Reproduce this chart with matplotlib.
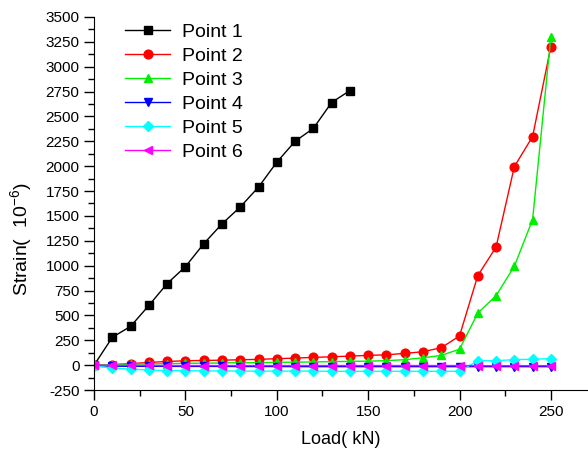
import matplotlib
matplotlib.use("Agg")
import matplotlib.pyplot as plt
from matplotlib.ticker import MultipleLocator

plt.rcParams['font.family'] = ['Liberation Sans', 'DejaVu Sans']
plt.rcParams['mathtext.fontset'] = 'custom'
plt.rcParams['mathtext.rm'] = 'Liberation Sans'
plt.rcParams['mathtext.it'] = 'Liberation Sans'
plt.rcParams['axes.unicode_minus'] = False

load1 = [0, 10, 20, 30, 40, 50, 60, 70, 80, 90, 100, 110, 120, 130, 140]
p1 = [0, 280, 390, 600, 820, 990, 1220, 1420, 1590, 1790, 2040, 2250, 2380, 2640, 2760]

load = [0, 10, 20, 30, 40, 50, 60, 70, 80, 90, 100, 110, 120, 130, 140, 150, 160, 170,
        180, 190, 200, 210, 220, 230, 240, 250]
p2 = [0, 5, 15, 27, 37, 44, 47, 50, 54, 58, 65, 71, 78, 84, 91, 98, 104, 118,
      135, 175, 293, 900, 1186, 1995, 2298, 3202]
p3 = [0, 5, 10, 12, 15, 18, 20, 22, 25, 25, 28, 30, 32, 35, 38, 40, 45, 55,
      74, 98, 160, 523, 698, 994, 1463, 3303]
p4 = [-5, -10, -12, -12, -12, -13, -13, -13, -14, -14, -14, -15, -15, -15, -15, -15, -15, -15,
      -15, -15, -15, -15, -15, -15, -15, -15]
p5 = [-10, -30, -40, -50, -55, -55, -58, -58, -60, -60, -60, -60, -60, -62, -62, -62, -62, -62,
      -62, -62, -62, 45, 45, 55, 60, 65]
p6 = [0, -2, -3, -3, -4, -4, -4, -4, -4, -4, -4, -4, -4, -4, -4, -4, -4, -4,
      -4, -4, -4, -5, -5, -5, -5, -5]

series = [
    (load1, p1, 'black', 's', 'Point 1'),
    (load, p2, 'red', 'o', 'Point 2'),
    (load, p3, '#00ee00', '^', 'Point 3'),
    (load, p4, 'blue', 'v', 'Point 4'),
    (load, p5, 'cyan', 'D', 'Point 5'),
    (load, p6, 'magenta', '<', 'Point 6'),
]

fig = plt.figure(figsize=(5.88, 4.5), dpi=100)
ax = fig.add_axes([0.16, 0.1333, 0.839, 0.829])

for x, y, c, m, lab in series:
    ms = 5.5 if m == 'D' else 6.3
    ax.plot(x, y, color=c, marker=m, markersize=ms, linewidth=1, label=lab)

ax.set_xlim(0, 270)
ax.set_ylim(-250, 3500)
ax.xaxis.set_minor_locator(MultipleLocator(25))
ax.yaxis.set_major_locator(MultipleLocator(250))
ax.yaxis.set_minor_locator(MultipleLocator(125))
ax.set_xticks([0, 50, 100, 150, 200, 250])
ax.spines['top'].set_visible(False)
ax.spines['right'].set_visible(False)
ax.tick_params(which='major', direction='out', length=7, width=1, labelsize=11)
ax.tick_params(which='minor', direction='out', length=4, width=1)

ax.set_xlabel('Load( kN)', fontsize=13, labelpad=9)
ax.set_ylabel('Strain(  $10^{-6}$)', fontsize=14)
ax.yaxis.set_label_coords(-0.121, 0.405)

ax.legend(loc='upper left', bbox_to_anchor=(0.063, 0.984), borderaxespad=0, borderpad=0,
          frameon=False, fontsize=14, handlelength=2.3, handletextpad=0.6,
          labelspacing=0.33)

fig.savefig('out.png', dpi=100)
